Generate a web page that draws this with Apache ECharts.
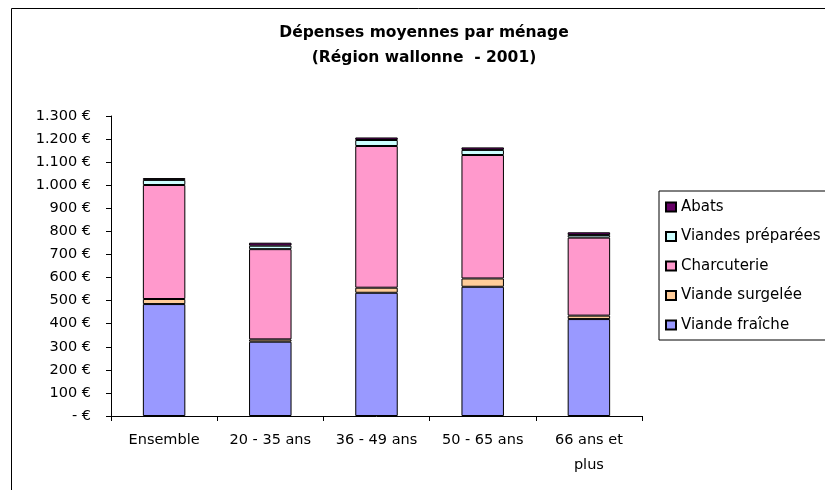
<!DOCTYPE html>
<html>
<head>
<meta charset="utf-8">
<script src="https://cdn.jsdelivr.net/npm/echarts@6/dist/echarts.min.js"></script>
<style>html,body{margin:0;padding:0;background:#fff;}#chart{width:825px;height:490px;}</style>
</head>
<body>
<div id="chart"></div>
<script>
var categories = ['Ensemble', '20 - 35 ans', '36 - 49 ans', '50 - 65 ans', '66 ans et\nplus'];
var viandeFraiche   = [485, 322, 534, 560, 420];
var viandeSurgelee  = [22, 10, 22, 36, 15];
var charcuterie     = [494, 391, 614, 535, 338];
var viandesPreparees= [22, 15, 26, 22, 11];
var abats           = [8, 13, 11, 11, 12];
var yTicks = [0, 100, 200, 300, 400, 500, 600, 700, 800, 900, 1000, 1100, 1200, 1300];

var FONT = 'DejaVu Sans';
function fmtEuro(v) {
  if (v === 0) return '- €';
  var s = String(v);
  if (v >= 1000) s = s.slice(0, s.length - 3) + '.' + s.slice(s.length - 3);
  return s + ' €';
}
function mk(name, data, color) {
  return {
    name: name, type: 'bar', stack: 'total', data: data, barWidth: '40%',
    itemStyle: { color: color, borderColor: '#000', borderWidth: 1 },
    emphasis: { disabled: true }
  };
}
var chart = echarts.init(document.getElementById('chart'), null, { renderer: 'canvas' });
chart.setOption({
  animation: false,
  backgroundColor: '#fff',
  textStyle: { fontFamily: FONT },
  grid: { left: 111, right: 183, top: 116, bottom: 74, containLabel: false },
  graphic: [
    { type: 'rect', shape: { x: 11.5, y: 8.5, width: 1000, height: 1000 },
      style: { fill: 'none', stroke: '#000', lineWidth: 1 }, silent: true, z: -1 },
    { type: 'text', x: 424, y: 20.5,
      style: { text: 'Dépenses moyennes par ménage\n(Région wallonne  - 2001)', align: 'center', verticalAlign: 'top',
        font: 'bold 15.5px "DejaVu Sans"', lineHeight: 25, fill: '#000' } }
  ],
  legend: {
    orient: 'vertical', left: 659, top: 191,
    data: ['Abats', 'Viandes préparées', 'Charcuterie', 'Viande surgelée', 'Viande fraîche'],
    icon: 'rect', itemWidth: 10, itemHeight: 9, itemGap: 13.5,
    padding: [8, 6, 7, 6],
    borderColor: '#000', borderWidth: 1,
    textStyle: { fontFamily: FONT, fontSize: 15, color: '#000', lineHeight: 16 }
  },
  xAxis: {
    type: 'category', data: categories,
    axisLine: { lineStyle: { color: '#000', width: 1 } },
    axisTick: { show: true, length: 5, lineStyle: { color: '#000' } },
    axisLabel: { color: '#000', fontSize: 14.5, fontFamily: FONT, margin: 12, lineHeight: 25, interval: 0 }
  },
  yAxis: {
    type: 'value', min: 0, max: 1300, interval: 100,
    axisLine: { show: true, lineStyle: { color: '#000', width: 1 } },
    axisTick: { show: true, length: 5, lineStyle: { color: '#000' } },
    splitLine: { show: false },
    axisLabel: { color: '#000', fontSize: 14.5, fontFamily: FONT, margin: 20,
      formatter: function (v) { return yTicks.indexOf(v) >= 0 ? fmtEuro(v) : ''; } }
  },
  series: [
    mk('Viande fraîche', viandeFraiche, '#9999FF'),
    mk('Viande surgelée', viandeSurgelee, '#FFCC99'),
    mk('Charcuterie', charcuterie, '#FF99CC'),
    mk('Viandes préparées', viandesPreparees, '#CCFFFF'),
    mk('Abats', abats, '#660066')
  ]
});
</script>
</body>
</html>
